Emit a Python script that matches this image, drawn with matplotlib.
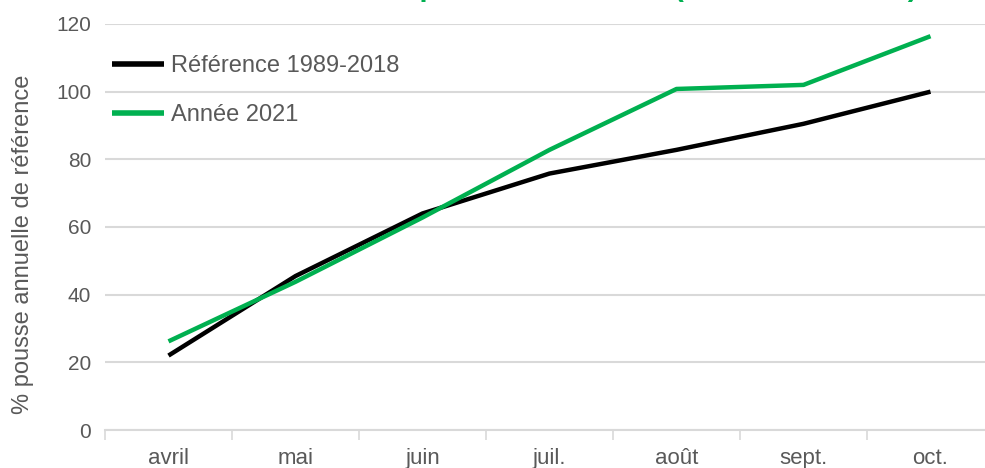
import matplotlib
matplotlib.use("Agg")
import matplotlib.pyplot as plt

plt.rcParams['font.family'] = ['Liberation Sans', 'DejaVu Sans']

months = ["avril", "mai", "juin", "juil.", "août", "sept.", "oct."]
reference = [22.0, 45.5, 64.0, 75.8, 82.8, 90.5, 100.0]
annee_2021 = [26.2, 43.8, 62.8, 82.8, 100.8, 102.0, 116.4]
yticks = [0, 20, 40, 60, 80, 100, 120]
title = "Calendrier relatif de la pousse de l'herbe (d'avril à octobre)"

W, H = 985, 468
fig = plt.figure(figsize=(W / 100, H / 100), dpi=100)
# axes in pixel coordinates: x 105..994, y 24..430 (from top)
ax = fig.add_axes([105 / W, (H - 430) / H, 889 / W, (430 - 24) / H])

x = list(range(len(months)))
ax.plot(x, reference, color="black", lw=3.2, label="Référence 1989-2018", solid_capstyle="butt", zorder=3)
ax.plot(x, annee_2021, color="#00B050", lw=3.2, label="Année 2021", solid_capstyle="butt", zorder=3)

ax.set_xlim(-0.5, len(months) - 0.5)
ax.set_ylim(0, 120)
ax.set_yticks(yticks)
ax.set_yticklabels([str(v) for v in yticks], fontsize=15, color="#595959")
ax.set_xticks(x)
ax.set_xticklabels(months, fontsize=16, color="#595959")
ax.tick_params(axis="x", length=0, pad=13)
ax.tick_params(axis="y", length=0, pad=10)
# category separator ticks
ax.set_xticks([i + 0.5 for i in range(-1, len(months))], minor=True)
ax.tick_params(axis="x", which="minor", length=7, width=1.2, color="#d9d9d9", direction="out")

ax.grid(axis="y", color="#d9d9d9", lw=1.5)
ax.set_axisbelow(True)
for s in ["top", "right", "left"]:
    ax.spines[s].set_visible(False)
ax.spines["bottom"].set_color("#d9d9d9")
ax.spines["bottom"].set_linewidth(1.5)

ax.set_ylabel("% pousse annuelle de référence", fontsize=17, color="#595959")
ax.yaxis.set_label_coords((34 - 105) / 889, (430 - 244) / 406)

leg = ax.legend(loc="upper left", bbox_to_anchor=(112 / W, 1 - 55 / H), bbox_transform=fig.transFigure,
                frameon=False, fontsize=17, handlelength=2.2, handletextpad=0.3,
                labelspacing=1.15, borderaxespad=0, borderpad=0)
for t in leg.get_texts():
    t.set_color("#595959")
for l in leg.get_lines():
    l.set_linewidth(4)

fig.text(105 / W, 1 + 4.0 / H, title, fontsize=21, fontweight="bold", color="#00B050",
         ha="left", va="baseline")

fig.savefig("out.png", dpi=100)
